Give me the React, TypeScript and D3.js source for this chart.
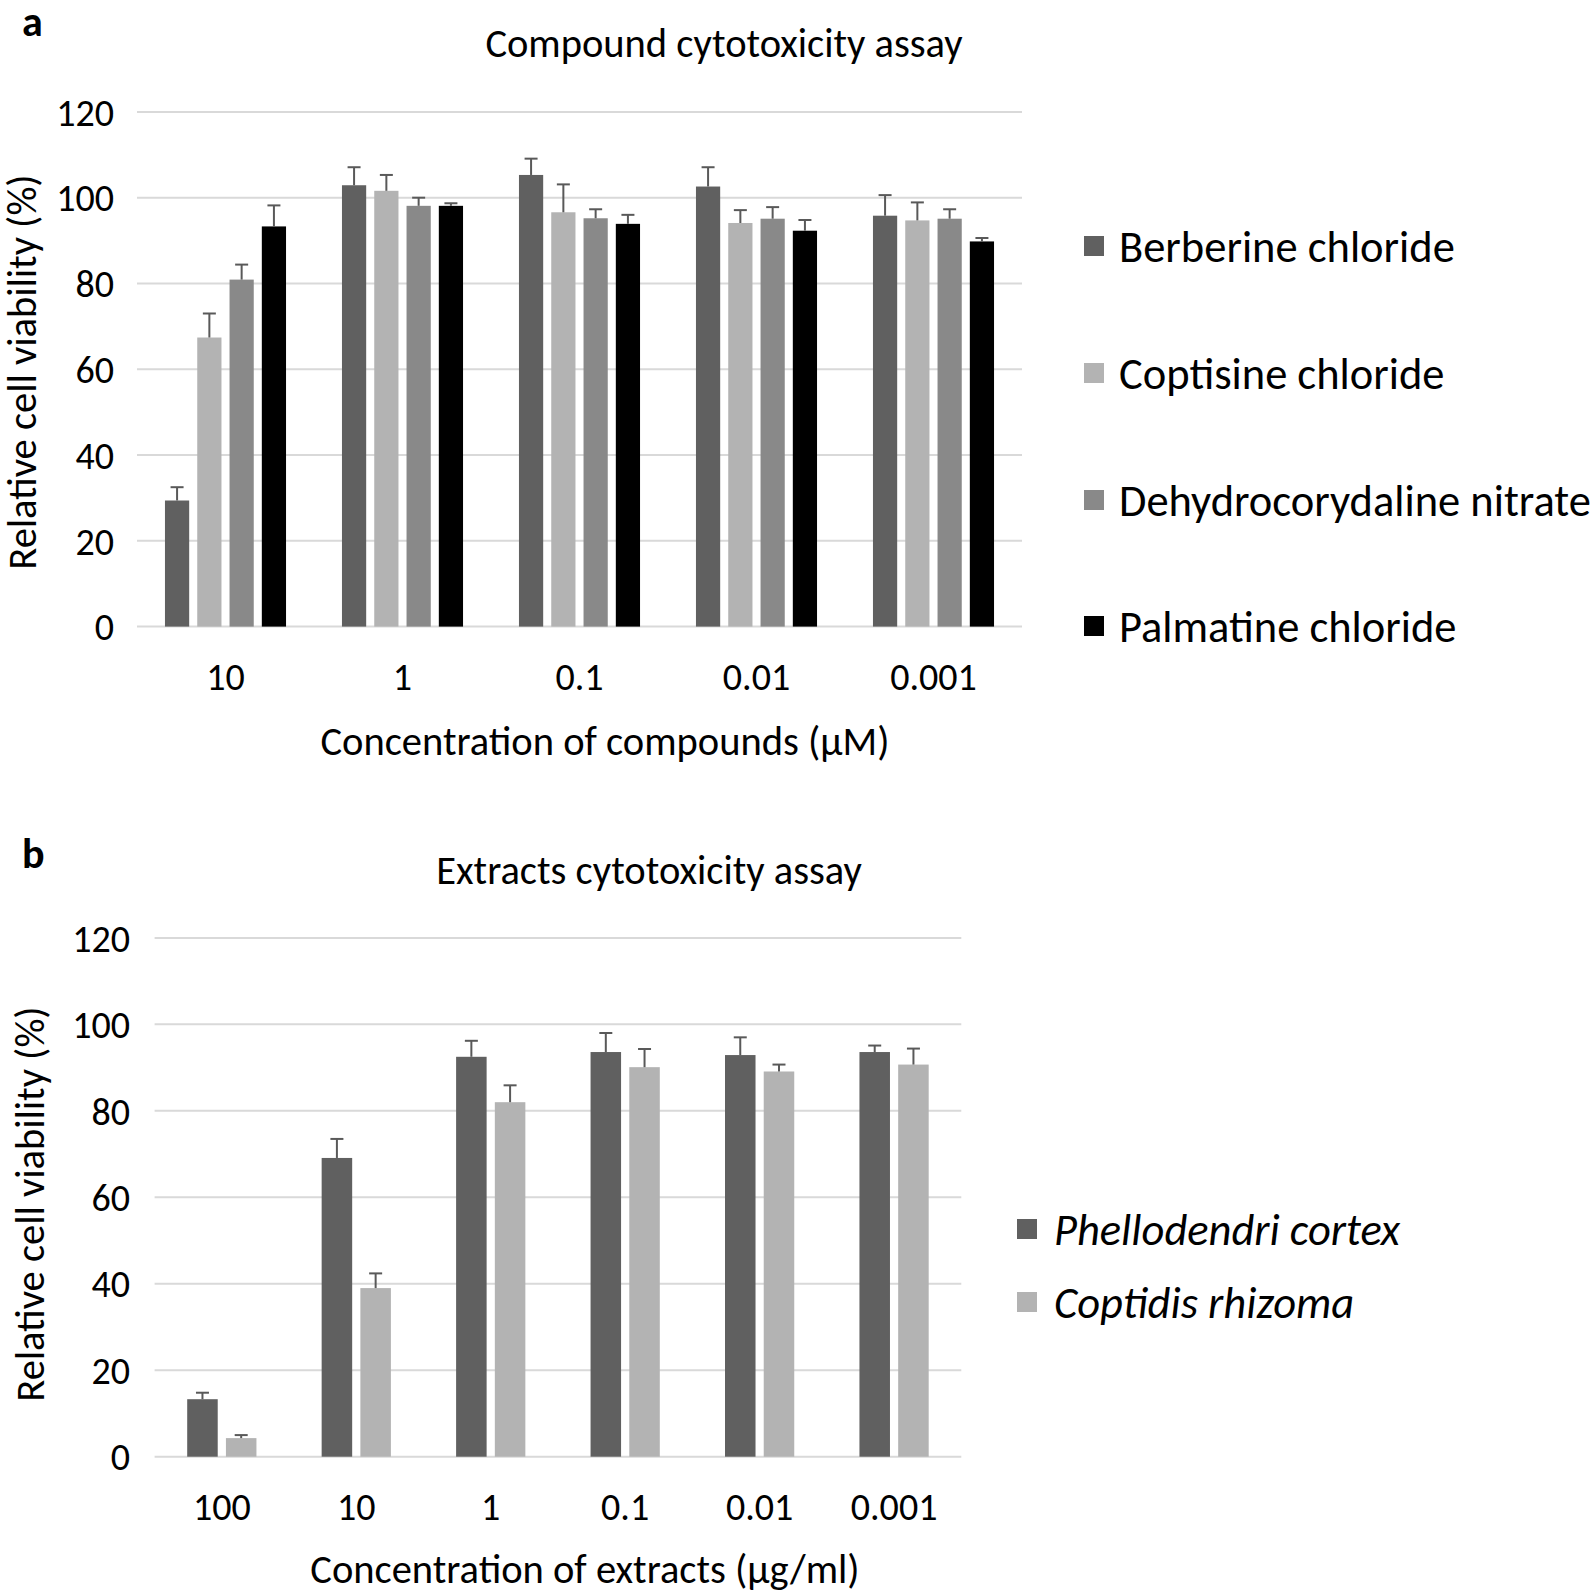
import React from "react";
import * as d3 from "d3";

// ---------- Data: panel a ----------
const compoundCategories = ["10", "1", "0.1", "0.01", "0.001"];
const compoundSeries = ["Berberine chloride", "Coptisine chloride", "Dehydrocorydaline nitrate", "Palmatine chloride"];
const berberineMean = [29.4, 102.9, 105.3, 102.6, 95.8];
const berberineErr = [3.1, 4.2, 3.8, 4.5, 4.8];
const coptisineMean = [67.4, 101.6, 96.6, 94.1, 94.7];
const coptisineErr = [5.6, 3.7, 6.5, 3.0, 4.2];
const dehydroMean = [80.9, 98.1, 95.2, 95.1, 95.1];
const dehydroErr = [3.5, 1.9, 2.1, 2.7, 2.2];
const palmatineMean = [93.3, 98.1, 93.9, 92.3, 89.8];
const palmatineErr = [4.9, 0.6, 2.1, 2.5, 0.8];
const compoundColors = ["#606060", "#b3b3b3", "#898989", "#000000"];

// ---------- Data: panel b ----------
const extractCategories = ["100", "10", "1", "0.1", "0.01", "0.001"];
const extractSeries = ["Phellodendri cortex", "Coptidis rhizoma"];
const phellodendriMean = [13.3, 69.1, 92.5, 93.6, 92.9, 93.6];
const phellodendriErr = [1.5, 4.4, 3.7, 4.4, 4.1, 1.5];
const coptidisMean = [4.3, 39.0, 82.0, 90.1, 89.1, 90.7];
const coptidisErr = [0.7, 3.4, 3.9, 4.2, 1.6, 3.7];
const extractColors = ["#606060", "#b3b3b3"];

const yTicks = [0, 20, 40, 60, 80, 100, 120];

const FONT = "Carlito, Lato, 'Open Sans', sans-serif";
const TICK_FS = 38;
const TITLE_FS = 40.5;
const LEGEND_FS = 44.5;

type PanelProps = {
  label: string;
  title: string;
  titleX: number;
  titleY: number;
  xTitle: string;
  xTitleX: number;
  xTitleY: number;
  yTitleX: number;
  yTitleY: number;
  categories: string[];
  series: string[];
  means: number[][];
  errs: number[][];
  colors: string[];
  x0: number;
  x1: number;
  yBottom: number;
  yTop: number;
  outerPad: number;
  innerPad: number;
  tickRight: number;
  catY: number;
  legendX: number;
  legendTextX: number;
  legendYs: number[];
  legendItalic: boolean;
  labelY: number;
};

function Panel(p: PanelProps) {
  const y = d3.scaleLinear().domain([0, 120]).range([p.yBottom, p.yTop]);
  const xg = d3
    .scaleBand<string>()
    .domain(p.categories)
    .range([p.x0, p.x1])
    .paddingInner(p.outerPad)
    .paddingOuter(p.outerPad / 2);
  const xs = d3
    .scaleBand<string>()
    .domain(p.series)
    .range([0, xg.bandwidth()])
    .paddingInner(p.innerPad)
    .paddingOuter(0);
  return (
    <g>
      <text x={22} y={p.labelY} fontFamily={FONT} fontWeight="bold" fontSize={42} fill="#000">
        {p.label}
      </text>
      <text x={p.titleX} y={p.titleY} textAnchor="middle" fontFamily={FONT} fontSize={TITLE_FS} fill="#000">
        {p.title}
      </text>
      {yTicks.map((t) => (
        <g key={t}>
          <line x1={p.x0} x2={p.x1} y1={y(t)} y2={y(t)} stroke="#d9d9d9" strokeWidth={2} />
          <text x={p.tickRight} y={y(t) + 13.7} textAnchor="end" fontFamily={FONT} fontSize={TICK_FS} fill="#000">
            {t}
          </text>
        </g>
      ))}
      {p.categories.map((c, ci) => (
        <g key={c} transform={`translate(${xg(c)},0)`}>
          {p.series.map((s, si) => {
            const v = p.means[si][ci];
            const e = p.errs[si][ci];
            const bx = xs(s)!;
            const bw = xs.bandwidth();
            const cx = bx + bw / 2;
            return (
              <g key={s}>
                <rect x={bx} y={y(v)} width={bw} height={y(0) - y(v)} fill={p.colors[si]} />
                <line x1={cx} x2={cx} y1={y(v)} y2={y(v + e)} stroke="#595959" strokeWidth={2} />
                <line x1={cx - 6.5} x2={cx + 6.5} y1={y(v + e)} y2={y(v + e)} stroke="#595959" strokeWidth={2} />
              </g>
            );
          })}
          <text
            x={xg.bandwidth() / 2}
            y={p.catY}
            textAnchor="middle"
            fontFamily={FONT}
            fontSize={TICK_FS}
            fill="#000"
          >
            {c}
          </text>
        </g>
      ))}
      <text x={p.xTitleX} y={p.xTitleY} textAnchor="middle" fontFamily={FONT} fontSize={TITLE_FS} fill="#000">
        {p.xTitle}
      </text>
      <text
        transform={`translate(${p.yTitleX},${p.yTitleY}) rotate(-90)`}
        textAnchor="middle"
        dominantBaseline="central"
        fontFamily={FONT}
        fontSize={TITLE_FS}
        fill="#000"
      >
        Relative cell viability (%)
      </text>
      {p.series.map((s, si) => (
        <g key={s}>
          <rect x={p.legendX} y={p.legendYs[si] - 10} width={20} height={20} fill={p.colors[si]} />
          <text
            x={p.legendTextX}
            y={p.legendYs[si] + 16}
            fontFamily={FONT}
            fontSize={LEGEND_FS}
            fontStyle={p.legendItalic ? "italic" : "normal"}
            fill="#000"
          >
            {s}
          </text>
        </g>
      ))}
    </g>
  );
}

export default function App() {
  return (
    <svg
      width={1594}
      height={1595}
      style={{ position: "absolute", left: 0, top: 0, background: "#fff" }}
    >
      <rect width={1594} height={1595} fill="#fff" />
      <Panel
        label="a"
        labelY={36}
        title="Compound cytotoxicity assay"
        titleX={724}
        titleY={57}
        xTitle="Concentration of compounds (µM)"
        xTitleX={605}
        xTitleY={755}
        yTitleX={22}
        yTitleY={372}
        categories={compoundCategories}
        series={compoundSeries}
        means={[berberineMean, coptisineMean, dehydroMean, palmatineMean]}
        errs={[berberineErr, coptisineErr, dehydroErr, palmatineErr]}
        colors={compoundColors}
        x0={137}
        x1={1022}
        yBottom={626.6}
        yTop={111.9}
        outerPad={0.316}
        innerPad={0.25}
        tickRight={114}
        catY={690}
        legendX={1084}
        legendTextX={1119}
        legendYs={[246, 373, 500, 626]}
        legendItalic={false}
      />
      <Panel
        label="b"
        labelY={868}
        title="Extracts cytotoxicity assay"
        titleX={649}
        titleY={884}
        xTitle="Concentration of extracts (µg/ml)"
        xTitleX={585}
        xTitleY={1583}
        yTitleX={30}
        yTitleY={1204}
        categories={extractCategories}
        series={extractSeries}
        means={[phellodendriMean, coptidisMean]}
        errs={[phellodendriErr, coptidisErr]}
        colors={extractColors}
        x0={154.6}
        x1={961.3}
        yBottom={1456.7}
        yTop={937.9}
        outerPad={0.485}
        innerPad={0.212}
        tickRight={130}
        catY={1520}
        legendX={1017}
        legendTextX={1054}
        legendYs={[1229, 1302]}
        legendItalic={true}
      />
    </svg>
  );
}
